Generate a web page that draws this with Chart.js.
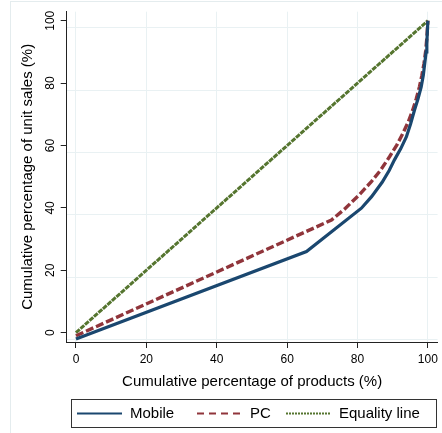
<!DOCTYPE html>
<html>
<head>
<meta charset="utf-8">
<style>
  html, body { margin: 0; padding: 0; background: #fff; }
  canvas { display: block; }
</style>
<script src="https://cdn.jsdelivr.net/npm/chart.js"></script>
</head>
<body>
<canvas id="lorenz-chart" width="442" height="433"></canvas>
<script>
// values
const seriesNames = ["Mobile", "PC", "Equality line"];
const mobileX = [0, 65.5, 81.1, 84.0, 87.0, 89.0, 90.5, 92.3, 93.9, 95.1, 96.2, 97.2, 98.1, 98.7, 99.1, 99.5, 99.7, 100];
const mobileY = [-2, 26, 39.9, 43.6, 48.2, 52, 55.4, 59, 62.8, 67, 71.4, 75, 78.8, 82.5, 86.3, 90, 92.8, 100];
const pcX = [0, 72.6, 76.5, 80.5, 84.0, 86.5, 89.1, 91.2, 92.9, 94.4, 95.7, 96.7, 97.6, 98.3, 98.9, 99.4, 99.7, 100];
const pcY = [-1, 36.1, 39.8, 44.2, 48.5, 52, 56.4, 60.2, 63.9, 67.5, 71.4, 75, 78.8, 82.5, 86.3, 90.5, 94.4, 100];
const equalityX = [0, 100];
const equalityY = [0, 100];
const xTicks = [0, 20, 40, 60, 80, 100];
const yTicks = [0, 20, 40, 60, 80, 100];

const FONT = "'Liberation Sans', Arial, sans-serif";
const GRID = "#e9f1f3";

function toPoints(xs, ys) {
  return xs.map((x, i) => ({ x: x, y: ys[i] }));
}

function fixTicks(values) {
  return function (scale) {
    scale.ticks = values.map(v => ({ value: v }));
  };
}

// light frame round the whole graph
const framePlugin = {
  id: "frame",
  beforeDraw(chart) {
    const ctx = chart.ctx;
    ctx.save();
    ctx.strokeStyle = "#e4ecee";
    ctx.lineWidth = 1;
    ctx.strokeRect(10.5, 1.5, 440, 440);
    ctx.restore();
  }
};

// boxed legend under the x title
const legendPlugin = {
  id: "boxLegend",
  afterDraw(chart) {
    const ctx = chart.ctx;
    const starts = [77, 197, 286];
    const dashes = [[], [7, 5], [2, 1]];
    const y = 413.5;
    ctx.save();
    ctx.strokeStyle = "#333";
    ctx.lineWidth = 1;
    ctx.strokeRect(71.5, 399.5, 365, 28);
    ctx.font = "15px " + FONT;
    ctx.textBaseline = "middle";
    ctx.fillStyle = "#000";
    chart.data.datasets.forEach((ds, i) => {
      const x0 = starts[i];
      ctx.beginPath();
      ctx.strokeStyle = ds.borderColor;
      ctx.lineWidth = 2;
      ctx.setLineDash(dashes[i]);
      ctx.moveTo(x0, y);
      ctx.lineTo(x0 + 45, y);
      ctx.stroke();
      ctx.setLineDash([]);
      ctx.fillText(ds.label, x0 + 53, y + 0.5);
    });
    ctx.restore();
  }
};

new Chart(document.getElementById("lorenz-chart").getContext("2d"), {
  type: "line",
  data: {
    datasets: [
      {
        label: seriesNames[0],
        data: toPoints(mobileX, mobileY),
        borderColor: "#1a476f",
        borderWidth: 3.2,
        pointRadius: 0,
        tension: 0
      },
      {
        label: seriesNames[1],
        data: toPoints(pcX, pcY),
        borderColor: "#90353b",
        borderWidth: 3.4,
        borderDash: [8, 3],
        pointRadius: 0,
        tension: 0
      },
      {
        label: seriesNames[2],
        data: toPoints(equalityX, equalityY),
        borderColor: "#55752f",
        borderWidth: 3,
        borderDash: [5, 1],
        pointRadius: 0,
        tension: 0
      }
    ]
  },
  options: {
    responsive: false,
    animation: false,
    devicePixelRatio: 1,
    layout: { padding: { left: 10, top: 11.7, right: 4, bottom: 36 } },
    plugins: {
      legend: { display: false },
      tooltip: { enabled: false }
    },
    scales: {
      x: {
        type: "linear",
        min: -2.64,
        max: 102.75,
        afterBuildTicks: fixTicks(xTicks),
        afterFit: s => { s.height = 55; },
        border: { color: "#222", width: 1 },
        grid: { color: GRID, tickColor: "#222", tickLength: 6 },
        ticks: { color: "#000", padding: 4, font: { family: FONT, size: 12 } },
        title: {
          display: true,
          text: "Cumulative percentage of products (%)",
          color: "#000",
          padding: { top: 0, bottom: 6 },
          font: { family: FONT, size: 15 }
        }
      },
      y: {
        type: "linear",
        position: "left",
        min: -3,
        max: 102.9,
        afterBuildTicks: fixTicks(yTicks),
        afterFit: s => { s.width = 56.7; },
        border: { color: "#222", width: 1 },
        grid: { drawOnChartArea: false, tickColor: "#222", tickLength: 6 },
        ticks: {
          color: "#000",
          padding: 0,
          minRotation: 90,
          maxRotation: 90,
          crossAlign: "center",
          font: { family: FONT, size: 12 }
        },
        title: {
          display: true,
          text: "Cumulative percentage of unit sales (%)",
          color: "#000",
          padding: { top: 9, bottom: 0 },
          font: { family: FONT, size: 15 }
        }
      },
      // horizontal grid of the reference sits about 7px below the ticks
      yGrid: {
        type: "linear",
        position: "left",
        min: -0.76,
        max: 105.14,
        afterBuildTicks: fixTicks(yTicks),
        afterFit: s => { s.width = 0; },
        border: { display: false },
        grid: { color: GRID, drawTicks: false },
        ticks: { display: false }
      }
    }
  },
  plugins: [framePlugin, legendPlugin]
});
</script>
</body>
</html>
